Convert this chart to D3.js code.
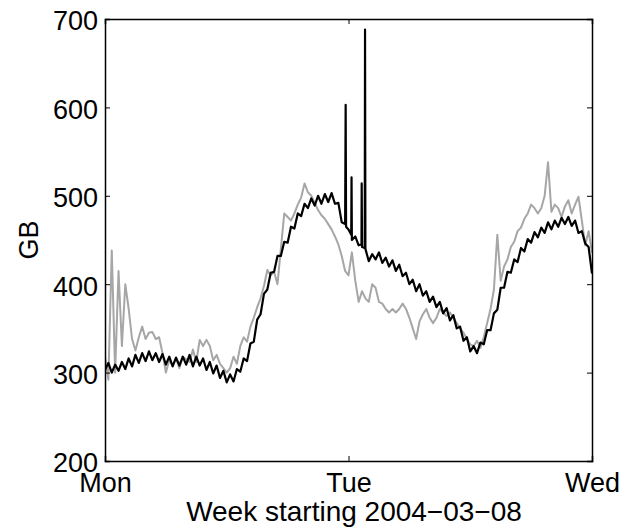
<!DOCTYPE html>
<meta charset="utf-8">
<style>
body { margin: 0; background: #fff; }
text { font-family: "Liberation Sans", Arial, sans-serif; fill: #000; }
.line { fill: none; stroke-linejoin: round; }
</style>
<body>
<script src="https://d3js.org/d3.v7.min.js"></script>
<script>

// one sample every 20 minutes, Mon 00:00 .. Wed 00:00
const sampleHours = d3.range(0, 145).map(i => i / 3);

const dayTicks = [0, 24, 48];
const dayLabels = ["Mon", "Tue", "Wed"];
const gbTicks = [200, 300, 400, 500, 600, 700];

const grayGB = [
  318, 292, 438, 300, 415, 330, 400, 372, 338, 325, 340, 352,
  338, 345, 346, 338, 340, 322, 300, 314, 308, 316, 305, 318,
  315, 312, 326, 312, 337, 330, 337, 330, 314, 320, 310, 305,
  300, 305, 318, 310, 330, 340, 335, 352, 362, 374, 384, 398,
  416, 410, 414, 400, 440, 480, 476, 472, 480, 490, 498, 514,
  504, 500, 492, 484, 478, 474, 468, 462, 454, 445, 432, 415,
  410, 436, 404, 380, 392, 384, 380, 400, 396, 380, 378, 372,
  368, 372, 368, 372, 378, 372, 362, 350, 338, 358, 366, 372,
  362, 356, 362, 372, 368, 364, 368, 362, 356, 350, 345, 338,
  332, 330, 336, 328, 340, 356, 372, 394, 456, 404, 420, 428,
  442, 448, 460, 464, 474, 480, 490, 486, 480, 486, 500, 538,
  482, 490, 486, 476, 488, 495, 480, 490, 499, 472, 444, 460,
  436
];

const blackGB = [
  303, 311, 300, 309, 302, 312, 304, 316, 307, 320, 311, 322,
  313, 324, 314, 322, 312, 321, 309, 318, 307, 317, 308, 318,
  309, 320, 307, 318, 308, 316, 303, 312, 299, 308, 294, 302,
  289, 298, 290, 304, 301, 316, 313, 333, 335, 360, 366, 389,
  394, 413, 414, 432, 432, 448, 447, 465, 463, 480, 477, 491,
  486, 497, 489, 500, 491, 502, 493, 503, 491, 492, 470, 468,
  462, 450, 454, 444, 442, 440, 426, 434, 428, 436, 424, 430,
  420, 427, 415, 422, 409, 413, 400, 405, 392, 400, 387, 392,
  380, 386, 374, 380, 367, 373, 359, 365, 350, 352, 336, 340,
  324, 330, 322, 334, 332, 348, 348, 367, 371, 396, 396, 414,
  413, 428, 425, 441, 437, 451, 447, 459, 453, 464, 458, 470,
  462, 472, 465, 475, 468, 476, 466, 472, 458, 460, 446, 442,
  412
];

// short bursts on Tuesday morning, [hour, GB]
const blackSpikes = [
  [23.72, 603], [23.76, 465],
  [24.27, 456], [24.30, 521],
  [25.28, 445], [25.30, 514],
  [25.60, 441], [25.63, 688]
];

const width = 637;
const height = 529;
const margin = {top: 19, right: 45, bottom: 68, left: 105};
const innerW = width - margin.left - margin.right;
const innerH = height - margin.top - margin.bottom;

const svg = d3.select("body").append("svg")
    .attr("width", width)
    .attr("height", height);

const g = svg.append("g")
    .attr("transform", `translate(${margin.left},${margin.top})`);

const x = d3.scaleLinear().domain([0, 48]).range([0, innerW]);
const y = d3.scaleLinear().domain([200, 700]).range([innerH, 0]);

const grayData = sampleHours.map((h, i) => [h, grayGB[i]]);
const blackData = sampleHours.map((h, i) => [h, blackGB[i]])
    .concat(blackSpikes)
    .sort((a, b) => a[0] - b[0]);

const line = d3.line()
    .x(d => x(d[0]))
    .y(d => y(d[1]));

g.append("defs").append("clipPath")
    .attr("id", "plot")
  .append("rect")
    .attr("width", innerW)
    .attr("height", innerH);

const plot = g.append("g").attr("clip-path", "url(#plot)");

plot.append("path")
    .datum(grayData)
    .attr("class", "line")
    .attr("stroke", "#a6a6a6")
    .attr("stroke-width", 2)
    .attr("d", line);

plot.append("path")
    .datum(blackData)
    .attr("class", "line")
    .attr("stroke", "#000")
    .attr("stroke-width", 2.2)
    .attr("d", line);

// box with inward ticks on all sides, matlab style
const tickLen = 5;

const axisBottom = d3.axisBottom(x).tickValues(dayTicks)
    .tickSize(-tickLen).tickFormat((d, i) => dayLabels[i]);
const axisTop = d3.axisTop(x).tickValues(dayTicks)
    .tickSize(-tickLen).tickFormat("");
const axisLeft = d3.axisLeft(y).tickValues(gbTicks)
    .tickSize(-tickLen).tickFormat(d3.format("d"));
const axisRight = d3.axisRight(y).tickValues(gbTicks)
    .tickSize(-tickLen).tickFormat("");

function styleAxis(sel) {
  sel.selectAll(".domain").attr("stroke", "#000").attr("stroke-width", 1.5);
  sel.selectAll(".tick line").attr("stroke", "#000").attr("stroke-width", 1);
  sel.selectAll("text")
      .attr("font-family", "'Liberation Sans', Arial, sans-serif")
      .attr("font-size", 27)
      .attr("fill", "#000");
}

const gx = g.append("g")
    .attr("transform", `translate(0,${innerH})`)
    .call(axisBottom)
    .call(styleAxis);
gx.selectAll(".tick text").attr("y", 12).attr("dy", "0.71em");

g.append("g").call(axisTop).call(styleAxis);

const gy = g.append("g").call(axisLeft).call(styleAxis);
gy.selectAll(".tick text").attr("x", -7).attr("dy", "0.4em");

g.append("g")
    .attr("transform", `translate(${innerW},0)`)
    .call(axisRight)
    .call(styleAxis);

g.selectAll(".domain").attr("fill", "none");

svg.append("text")
    .attr("x", 354)
    .attr("y", 521)
    .attr("text-anchor", "middle")
    .attr("font-size", 28)
    .text("Week starting 2004\u221203\u221208");

svg.append("text")
    .attr("transform", `translate(38,${margin.top + innerH / 2}) rotate(-90)`)
    .attr("text-anchor", "middle")
    .attr("font-size", 27)
    .text("GB");

</script>
</body>
